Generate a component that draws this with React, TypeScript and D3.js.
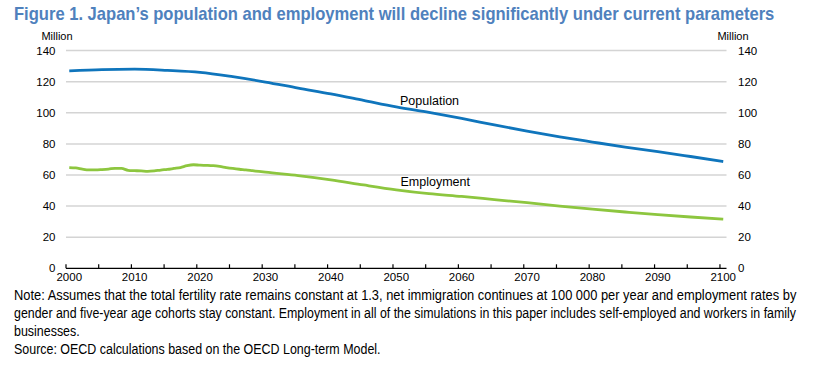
import React from 'react';
import * as d3 from 'd3';

// population, million
const popYears = [2000, 2005, 2010, 2015, 2020, 2025, 2030, 2035, 2040, 2045, 2050,
  2055, 2060, 2065, 2070, 2075, 2080, 2085, 2090, 2095, 2100];
const popValues = [127.0, 127.8, 128.1, 127.3, 126.0, 123.2, 119.8, 115.9, 112.2, 108.0, 103.8,
  100.2, 96.4, 92.2, 88.2, 84.5, 81.2, 78.0, 75.1, 71.9, 68.6];

// employment, million
const empYears = [2000, 2001, 2002, 2003, 2004, 2005, 2006, 2007, 2008, 2009, 2010,
  2011, 2012, 2013, 2014, 2015, 2016, 2017, 2018, 2019, 2020, 2021, 2022, 2023, 2024,
  2025, 2026, 2027, 2028, 2029, 2030, 2035, 2040, 2045, 2050, 2055, 2060, 2065, 2070,
  2075, 2080, 2085, 2090, 2095, 2100];
const empValues = [64.8, 64.6, 63.8, 63.3, 63.3, 63.5, 63.8, 64.3, 64.2, 63.0, 62.8,
  62.6, 62.3, 62.6, 63.2, 63.6, 64.2, 64.8, 66.0, 66.6, 66.3, 66.2, 66.0, 65.5, 64.8,
  64.2, 63.7, 63.3, 62.8, 62.3, 61.8, 59.6, 56.9, 53.6, 50.5, 48.0, 46.2, 44.2, 42.2,
  40.0, 38.0, 36.2, 34.5, 33.0, 31.6];

const yTicks = [0, 20, 40, 60, 80, 100, 120, 140];
const xLabels = [2000, 2010, 2020, 2030, 2040, 2050, 2060, 2070, 2080, 2090, 2100];
const xMinor = d3.range(2000, 2101, 5);

const title = 'Figure 1. Japan\u2019s population and employment will decline significantly under current parameters';
const noteLines = [
  'Note: Assumes that the total fertility rate remains constant at 1.3, net immigration continues at 100 000 per year and employment rates by',
  'gender and five-year age cohorts stay constant. Employment in all of the simulations in this paper includes self-employed and workers in family',
  'businesses.',
  'Source: OECD calculations based on the OECD Long-term Model.',
];

const font = '"Liberation Sans", Arial, sans-serif';

// width of a string in the page font, to squeeze it like the narrow original
function measure(s: string, css: string) {
  const ctx = document.createElement('canvas').getContext('2d');
  if (!ctx) return s.length * 7;
  ctx.font = css;
  return ctx.measureText(s).width;
}

export default function App() {
  const W = 815;
  const H = 365;
  // category-style axis: one slot per year, points at the slot centre
  const x = d3.scaleLinear().domain([2000, 2101]).range([66, 726.5]);
  const y = d3.scaleLinear().domain([0, 140]).range([268.3, 50.6]);

  const line = d3.line<[number, number]>()
    .x((d) => x(d[0] + 0.5))
    .y((d) => y(d[1]))
    .curve(d3.curveMonotoneX);

  const popData = popYears.map((yr, i) => [yr, popValues[i]] as [number, number]);
  const empData = empYears.map((yr, i) => [yr, empValues[i]] as [number, number]);

  const titleScale = 761 / measure(title, `bold 18.5px ${font}`);
  const noteCss = `14.5px ${font}`;
  const sJust = 784 / measure(noteLines[0], noteCss);
  const sNote = 367 / measure(noteLines[3], noteCss);
  const noteScales = [sJust, 783 / measure(noteLines[1], noteCss), sNote, sNote];

  return (
    <svg width={W} height={H} style={{ position: 'absolute', left: 0, top: 0, background: '#fff' }}>
      <text transform={`translate(14,19.5) scale(${titleScale},1)`} fontFamily={font} fontWeight="bold"
        fontSize={18.5} fill="#4F81BD">{title}</text>

      <text x={57} y={39.5} fontFamily={font} fontSize={11} textAnchor="middle">Million</text>
      <text x={733} y={39.5} fontFamily={font} fontSize={11} textAnchor="middle">Million</text>

      {/* gridlines */}
      {yTicks.filter((t) => t > 0).map((t) => (
        <line key={`g${t}`} x1={x(2000)} x2={x(2101)} y1={y(t)} y2={y(t)} stroke="#d4d4d4" strokeWidth={1.5} />
      ))}

      {/* y labels */}
      {yTicks.map((t) => (
        <g key={`y${t}`} fontFamily={font} fontSize={11.5}>
          <text x={55.5} y={y(t) + 4} textAnchor="end">{t}</text>
          <text x={738} y={y(t) + 4} textAnchor="start">{t}</text>
        </g>
      ))}

      {/* x axis */}
      <line x1={x(2000)} x2={x(2101)} y1={y(0)} y2={y(0)} stroke="#000" strokeWidth={1.3} />
      {xMinor.map((t) => (
        <line key={`t${t}`} x1={x(t)} x2={x(t)} y1={y(0) - 4} y2={y(0)} stroke="#000" strokeWidth={1.2} />
      ))}
      {xLabels.map((t) => (
        <text key={`x${t}`} x={x(t + 0.5)} y={281} textAnchor="middle" fontFamily={font} fontSize={11.5}>{t}</text>
      ))}

      {/* series */}
      <path d={line(popData) ?? ''} fill="none" stroke="#0F75BC" strokeWidth={2.8} />
      <path d={line(empData) ?? ''} fill="none" stroke="#8DC63F" strokeWidth={2.8} />

      <text x={400} y={105} fontFamily={font} fontSize={12.5}>Population</text>
      <text x={400.5} y={186} fontFamily={font} fontSize={12.5}>Employment</text>

      {/* note and source */}
      {noteLines.map((s, i) => (
        <text key={`n${i}`} transform={`translate(14,${300 + i * 18}) scale(${noteScales[i]},1)`}
          fontFamily={font} fontSize={14.5}>{s}</text>
      ))}
    </svg>
  );
}
